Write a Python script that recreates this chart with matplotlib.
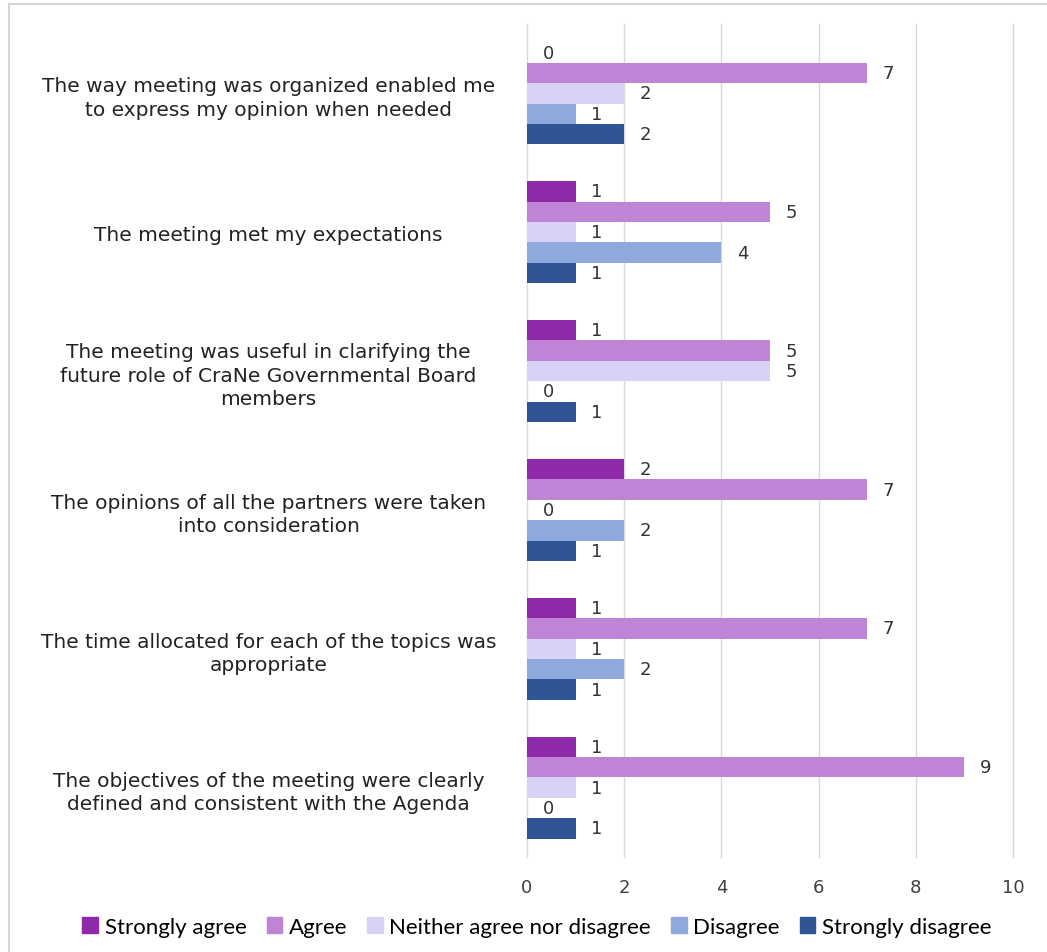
import matplotlib
matplotlib.use("Agg")
import matplotlib.pyplot as plt
from matplotlib.lines import Line2D
import numpy as np

# survey statements, top to bottom
statements = [
    "The way meeting was organized enabled me\nto express my opinion when needed",
    "The meeting met my expectations",
    "The meeting was useful in clarifying the\nfuture role of CraNe Governmental Board\nmembers",
    "The opinions of all the partners were taken\ninto consideration",
    "The time allocated for each of the topics was\nappropriate",
    "The objectives of the meeting were clearly\ndefined and consistent with the Agenda",
]

series_names = ["Strongly agree", "Agree", "Neither agree nor disagree",
                "Disagree", "Strongly disagree"]
strongly_agree = [0, 1, 1, 2, 1, 1]
agree = [7, 5, 5, 7, 7, 9]
neither = [2, 1, 5, 0, 1, 1]
disagree = [1, 4, 0, 2, 2, 0]
strongly_disagree = [2, 1, 1, 1, 1, 1]
colors = ["#8E2AA8", "#C084D6", "#D8D2F6", "#8EAADC", "#2F5597"]

x_ticks = [0, 2, 4, 6, 8, 10]

fig = plt.figure(figsize=(10.47, 9.53), dpi=100)
ax = fig.add_axes([527 / 1047, 1 - 858 / 953, 486 / 1047, 833 / 953])

values = [strongly_agree, agree, neither, disagree, strongly_disagree]
y = np.arange(len(statements))
h = 0.147
for j, (name, vals, col) in enumerate(zip(series_names, values, colors)):
    pos = y + (j - 2) * h
    ax.barh(pos, vals, height=h, color=col, label=name, zorder=3)
    for p, v in zip(pos, vals):
        ax.annotate(str(v), (v, p), xytext=(15.5, 0), textcoords="offset points",
                    ha="center", va="center", fontsize=13, color="#333333")

ax.set_xlim(0, 10)
ax.set_ylim(len(statements) - 0.5, -0.5)
ax.set_xticks(x_ticks)
ax.set_xticklabels([str(t) for t in x_ticks], fontsize=13, color="#404040")
ax.set_yticks(y)
ax.set_yticklabels(statements, fontsize=14.5, color="#222222",
                   ha="center", linespacing=1.3)
ax.tick_params(axis="y", length=0, pad=186)
ax.tick_params(axis="x", length=0, pad=15)
ax.grid(axis="x", color="#d9d9d9", linewidth=1, zorder=0)
for gl in ax.get_xgridlines():
    gl.set_clip_on(False)
for s in ax.spines.values():
    s.set_visible(False)

handles = [plt.Rectangle((0, 0), 1, 1, color=c) for c in colors]
fig.legend(handles, series_names, loc="center", bbox_to_anchor=(537 / 1047, 1 - 928 / 953),
           ncol=5, frameon=False, prop={"family": "Lato", "size": 16},
           handlelength=0.7, handleheight=0.7, handletextpad=0.3, columnspacing=0.9)

# light frame on the top and left edges
fig.add_artist(Line2D([9 / 1047, 9 / 1047], [0, 1 - 5 / 953], color="#d6d6d6", lw=1.5))
fig.add_artist(Line2D([9 / 1047, 1], [1 - 5 / 953, 1 - 5 / 953], color="#d6d6d6", lw=1.5))

fig.savefig("out.png", dpi=100, facecolor="white")
